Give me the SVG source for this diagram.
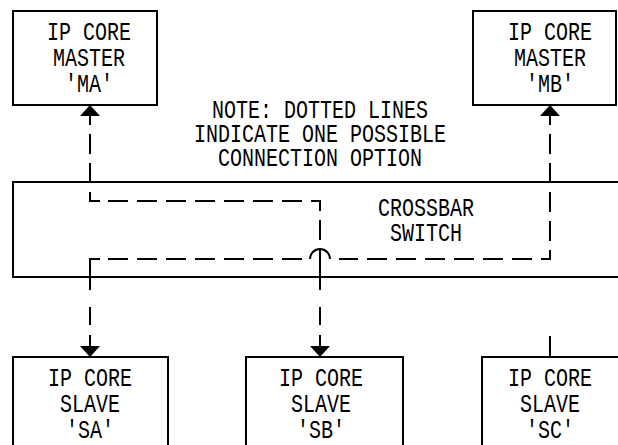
<svg xmlns="http://www.w3.org/2000/svg" width="618" height="445" viewBox="0 0 618 445">
<style>
.box{fill:#fff;stroke:#000;stroke-width:2}
.t{font-family:"Liberation Mono","Courier New",monospace;font-size:25px;fill:#000;text-anchor:middle}
.ln{fill:none;stroke:#000;stroke-width:2;stroke-linecap:butt;stroke-linejoin:miter}
.ah{fill:#000;stroke:none}
</style>
<rect width="618" height="445" fill="#fff"/>
<g id="crossbar">
<rect class="box" x="13" y="182" width="610" height="95"/>
<text class="t" transform="matrix(0.8 0 0 1 426 0)" y="216">CROSSBAR</text>
<text class="t" transform="matrix(0.8 0 0 1 426 0)" y="241">SWITCH</text>
</g>
<g id="master-ma">
<rect class="box" x="13" y="11" width="144" height="94"/>
<text class="t" transform="matrix(0.8 0 0 1 89 0)" y="40">IP CORE</text>
<text class="t" transform="matrix(0.8 0 0 1 89 0)" y="66">MASTER</text>
<text class="t" transform="matrix(0.8 0 0 1 89 0)" y="92">'MA'</text>
</g>
<g id="master-mb">
<rect class="box" x="473" y="11" width="143" height="94"/>
<text class="t" transform="matrix(0.8 0 0 1 550 0)" y="40">IP CORE</text>
<text class="t" transform="matrix(0.8 0 0 1 550 0)" y="66">MASTER</text>
<text class="t" transform="matrix(0.8 0 0 1 550 0)" y="92">'MB'</text>
</g>
<g id="slave-sa">
<rect class="box" x="13" y="357" width="155" height="100"/>
<text class="t" transform="matrix(0.8 0 0 1 90 0)" y="386">IP CORE</text>
<text class="t" transform="matrix(0.8 0 0 1 90 0)" y="412">SLAVE</text>
<text class="t" transform="matrix(0.8 0 0 1 90 0)" y="438">'SA'</text>
</g>
<g id="slave-sb">
<rect class="box" x="246" y="357" width="157" height="100"/>
<text class="t" transform="matrix(0.8 0 0 1 321 0)" y="386">IP CORE</text>
<text class="t" transform="matrix(0.8 0 0 1 321 0)" y="412">SLAVE</text>
<text class="t" transform="matrix(0.8 0 0 1 321 0)" y="438">'SB'</text>
</g>
<g id="slave-sc">
<rect class="box" x="482" y="357" width="150" height="100"/>
<text class="t" transform="matrix(0.8 0 0 1 550 0)" y="386">IP CORE</text>
<text class="t" transform="matrix(0.8 0 0 1 550 0)" y="412">SLAVE</text>
<text class="t" transform="matrix(0.8 0 0 1 550 0)" y="438">'SC'</text>
</g>
<g id="note">
<text class="t" transform="matrix(0.8 0 0 1 320 0)" y="118">NOTE: DOTTED LINES</text>
<text class="t" transform="matrix(0.8 0 0 1 320 0)" y="142">INDICATE ONE POSSIBLE</text>
<text class="t" transform="matrix(0.8 0 0 1 320 0)" y="166">CONNECTION OPTION</text>
</g>
<g id="connectors">
<!-- MA <-> SB -->
<path class="ln" d="M90,112 V125 M90,134 V154 M90,163 V183 M90,192 V201 H100 M108,201 H128 M137,201 H157 M166,201 H186 M195,201 H215 M224,201 H244 M253,201 H273 M282,201 H302 M311,201 H320 V211 M320,220 V240 M320,250 V290 M320,307 V325 M320,335 V348"/>
<polygon class="ah" points="90,105 80,116 100,116"/>
<polygon class="ah" points="320,357 310,346 330,346"/>
<!-- MB <-> SA -->
<path class="ln" d="M550,112 V125 M550,134 V154 M550,163 V183 M550,192 V212 M550,221 V241 M550,250 V259 H541 M532,259 H512 M503,259 H483 M474,259 H454 M445,259 H425 M416,259 H396 M387,259 H367 M358,259 H339 M310,259 A10,10 0 0 1 330,259 M302,259 H282 M273,259 H253 M244,259 H224 M215,259 H195 M186,259 H166 M157,259 H137 M128,259 H108 M100,259 H90 V290 M90,307 V325 M90,335 V348"/>
<polygon class="ah" points="550,105 540,116 560,116"/>
<polygon class="ah" points="90,357 80,346 100,346"/>
<!-- stub above SC -->
<path class="ln" d="M550,336 V357"/>
</g>
</svg>
